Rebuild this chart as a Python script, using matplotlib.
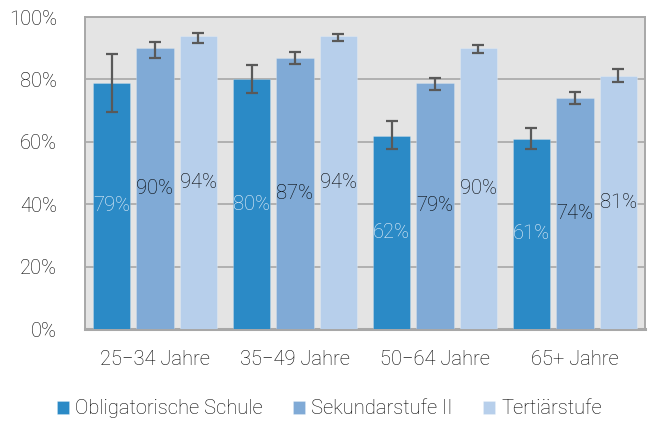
import numpy as np
import matplotlib
matplotlib.use("Agg")
import matplotlib.pyplot as plt

# data
groups = ["25\u221234 Jahre", "35\u221249 Jahre", "50\u221264 Jahre", "65+ Jahre"]
series = ["Obligatorische Schule", "Sekundarstufe II", "Tertiärstufe"]
obligatorisch = [79, 80, 62, 61]
sek2 = [90, 87, 79, 74]
tertiaer = [94, 94, 90, 81]
obl_lo = [69.5, 75.7, 57.8, 57.6]
obl_hi = [88.1, 84.6, 66.8, 64.4]
sek_lo = [87.0, 84.9, 76.7, 72.1]
sek_hi = [92.0, 88.7, 80.4, 75.9]
ter_lo = [91.8, 92.3, 88.5, 79.1]
ter_hi = [95.0, 94.7, 91.1, 83.3]

colors = ["#2b8ac6", "#80aad6", "#b7cfeb"]
label_colors = ["#eef4fb", "#000000", "#000000"]
txt = "#000000"
fs = 14.5

plt.rcParams["font.family"] = ["Roboto", "DejaVu Sans"]
plt.rcParams["font.weight"] = "light"

fig = plt.figure(figsize=(6.56, 4.21), dpi=100)
ax = fig.add_axes([0.1296, 0.2185, 0.8534, 0.7411])
ax.set_facecolor("#e4e4e4")

x = np.arange(len(groups))
width = 0.267
step = 0.31
vals = [obligatorisch, sek2, tertiaer]
los = [obl_lo, sek_lo, ter_lo]
his = [obl_hi, sek_hi, ter_hi]

for i, (v, lo, hi) in enumerate(zip(vals, los, his)):
    pos = x + (i - 1) * step
    v = np.array(v)
    err = [v - np.array(lo), np.array(hi) - v]
    ax.bar(pos, v, width, color=colors[i], label=series[i], zorder=3,
           edgecolor="#ffffff40", linewidth=0.6)
    ax.errorbar(pos, v, yerr=err, fmt="none", ecolor="#595959",
                elinewidth=1.6, capsize=4.5, capthick=1.6, zorder=4)
    for p, val in zip(pos, v):
        ax.text(p, val / 2, f"{val}%", ha="center", va="center",
                fontsize=fs, color=label_colors[i], fontweight="light", zorder=5)

ax.set_xlim(-0.5, 3.5)
ax.set_ylim(0, 100)
ax.set_yticks([0, 20, 40, 60, 80, 100])
ax.set_yticklabels([f"{t}%" for t in [0, 20, 40, 60, 80, 100]])
ax.set_xticks(x)
ax.set_xticklabels(groups)
ax.tick_params(axis="both", length=0, labelsize=fs, colors=txt)
ax.tick_params(axis="x", pad=15)
ax.tick_params(axis="y", pad=20)
for t in ax.get_xticklabels() + ax.get_yticklabels():
    t.set_fontweight("light")

ax.yaxis.grid(True, color="#b0b0b0", linewidth=1.4, zorder=0)
ax.set_axisbelow(True)
for s in ["left", "top", "right"]:
    ax.spines[s].set_color("#a8a8a8")
    ax.spines[s].set_linewidth(1.4)
ax.spines["bottom"].set_color("#a8a8a8")
ax.spines["bottom"].set_linewidth(2.2)

leg = fig.legend(loc="lower center", bbox_to_anchor=(0.502, -0.037), ncol=3,
                 frameon=False, fontsize=fs, handlelength=0.6, handleheight=0.6,
                 handletextpad=0.3, columnspacing=1.5)
for t in leg.get_texts():
    t.set_color(txt)
    t.set_fontweight("light")

fig.savefig("out.png", dpi=100)
